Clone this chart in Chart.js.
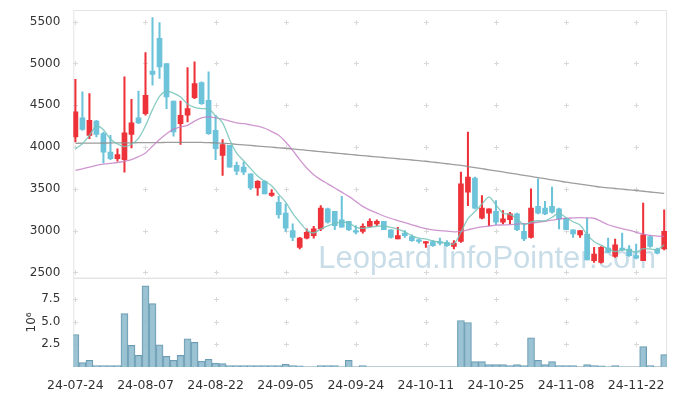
<!DOCTYPE html>
<html>
<head>
<meta charset="utf-8">
<script src="https://cdn.jsdelivr.net/npm/chart.js@4.4.1/dist/chart.umd.min.js"></script>
<style>
  html, body { margin: 0; padding: 0; background: #fff; }
  #wrap { width: 677px; height: 396px; }
</style>
</head>
<body>
<div id="wrap"><canvas id="chart" width="677" height="396"></canvas></div>
<script>
// trading days (yy-mm-dd)
const dates = [
    "24-07-24", "24-07-25", "24-07-26", "24-07-29", "24-07-30", "24-07-31",
    "24-08-01", "24-08-02", "24-08-05", "24-08-06", "24-08-07", "24-08-08", "24-08-09",
    "24-08-12", "24-08-13", "24-08-14", "24-08-16", "24-08-19", "24-08-20", "24-08-21",
    "24-08-22", "24-08-23", "24-08-26", "24-08-27", "24-08-28", "24-08-29", "24-08-30",
    "24-09-02", "24-09-03", "24-09-04", "24-09-05", "24-09-06", "24-09-09", "24-09-10",
    "24-09-11", "24-09-12", "24-09-13", "24-09-19", "24-09-20", "24-09-23", "24-09-24",
    "24-09-25", "24-09-26", "24-09-27", "24-09-30", "24-10-02", "24-10-04", "24-10-07",
    "24-10-08", "24-10-10", "24-10-11", "24-10-14", "24-10-15", "24-10-16", "24-10-17",
    "24-10-18", "24-10-21", "24-10-22", "24-10-23", "24-10-24", "24-10-25", "24-10-28",
    "24-10-29", "24-10-30", "24-10-31", "24-11-01", "24-11-04", "24-11-05", "24-11-06",
    "24-11-07", "24-11-08", "24-11-11", "24-11-12", "24-11-13", "24-11-14", "24-11-15",
    "24-11-18", "24-11-19", "24-11-20", "24-11-21", "24-11-22", "24-11-25", "24-11-26",
    "24-11-27", "24-11-28"
];

// OHLC
const opens = [
    4120, 4350, 4140, 4310, 4160, 3940, 3860, 3850, 4150, 4350,
    4400, 4910, 5300, 5000, 4550, 4280, 4380, 4590, 4770, 4560,
    4200, 3900, 4020, 3780, 3760, 3680, 3510, 3590, 3420, 3340,
    3210, 3000, 2800, 2910, 2940, 3020, 3260, 3230, 3130, 3110,
    3000, 2990, 3050, 3080, 3110, 3010, 2900, 2970, 2930, 2890,
    2850, 2870, 2870, 2860, 2810, 2870, 3460, 3630, 3150, 3210,
    3230, 3100, 3130, 3200, 2990, 2920, 3290, 3270, 3290, 3260,
    3140, 3010, 2950, 2960, 2640, 2620, 2790, 2690, 2790, 2780,
    2700, 2640, 2930, 2780, 2780
];
const highs = [
    4810, 4660, 4640, 4320, 4180, 4140, 3980, 4840, 4570, 4670,
    5130, 5550, 5490, 5000, 4550, 4550, 4950, 5020, 4780, 4900,
    4380, 4090, 4020, 3820, 3820, 3680, 3600, 3600, 3490, 3410,
    3320, 3080, 2920, 3020, 3050, 3300, 3270, 3230, 3410, 3110,
    3060, 3080, 3140, 3130, 3110, 3010, 3040, 3000, 2950, 2900,
    2870, 2880, 2910, 2880, 2880, 3700, 4180, 3640, 3420, 3260,
    3360, 3240, 3220, 3210, 3080, 3500, 3620, 3350, 3520, 3270,
    3150, 3010, 3000, 3150, 2800, 2810, 2910, 2900, 2970, 2820,
    2840, 3330, 2940, 2790, 3250
];
const lows = [
    4060, 4200, 4100, 4120, 3810, 3850, 3830, 3700, 3990, 4280,
    4380, 4740, 4820, 4460, 4130, 4030, 4300, 4580, 4510, 4150,
    3850, 3660, 3760, 3670, 3670, 3490, 3420, 3440, 3410, 3150,
    2990, 2880, 2780, 2900, 2910, 3000, 3090, 3010, 3040, 3000,
    2960, 2970, 3040, 3060, 3010, 2910, 2900, 2920, 2870, 2850,
    2800, 2810, 2830, 2810, 2780, 2860, 3300, 3260, 3140, 3060,
    3070, 3080, 3080, 3000, 2880, 2910, 3200, 3190, 3210, 3020,
    3010, 2920, 2920, 2650, 2620, 2610, 2740, 2680, 2760, 2690,
    2660, 2640, 2800, 2720, 2770
];
const closes = [
    4420, 4210, 4320, 4150, 3940, 3860, 3910, 4170, 4290, 4290,
    4620, 4870, 4960, 4600, 4180, 4380, 4460, 4760, 4520, 4160,
    3980, 4030, 3760, 3710, 3700, 3510, 3590, 3440, 3450, 3190,
    3030, 2920, 2910, 2980, 3020, 3270, 3100, 3060, 3040, 3010,
    2980, 3050, 3110, 3110, 3010, 2920, 2940, 2940, 2880, 2870,
    2870, 2820, 2850, 2820, 2850, 3560, 3640, 3270, 3270, 3260,
    3100, 3140, 3200, 3010, 2900, 3270, 3210, 3200, 3220, 3140,
    3010, 2960, 3000, 2650, 2720, 2800, 2740, 2830, 2770, 2700,
    2670, 2950, 2810, 2730, 2990
];

// moving averages (5, 20, 120 days)
const ma5 = [
    3980, 4040, 4140, 4250, 4208, 4096, 4036, 4006, 4034, 4104,
    4256, 4448, 4606, 4668, 4646, 4598, 4516, 4476, 4460, 4456,
    4376, 4290, 4090, 3928, 3836, 3742, 3654, 3590, 3538, 3436,
    3340, 3206, 3100, 3006, 2972, 3020, 3056, 3086, 3098, 3096,
    3038, 3028, 3038, 3052, 3052, 3040, 3018, 2984, 2938, 2910,
    2900, 2876, 2858, 2846, 2842, 2980, 3144, 3228, 3318, 3400,
    3308, 3208, 3194, 3142, 3070, 3104, 3118, 3118, 3160, 3208,
    3156, 3106, 3066, 2952, 2868, 2826, 2782, 2748, 2772, 2768,
    2742, 2784, 2780, 2772, 2830
];
const ma20 = [
    3720, 3740, 3760, 3780, 3795, 3805, 3815, 3830, 3850, 3885,
    3930, 4010, 4090, 4160, 4215, 4240, 4260, 4310, 4350, 4360,
    4350, 4335, 4310, 4290, 4280, 4265, 4250, 4225, 4185, 4140,
    4060, 3960, 3850, 3750, 3670, 3610, 3560, 3510, 3460, 3410,
    3350, 3290, 3245, 3210, 3175, 3145, 3120, 3095, 3070, 3045,
    3025, 3010, 3000, 2995, 2985, 2990, 3010, 3030, 3045, 3055,
    3065, 3068, 3072, 3078, 3082, 3090, 3100, 3112, 3125, 3138,
    3148, 3152, 3155, 3152, 3148, 3110, 3070, 3045, 3025, 3005,
    2980, 2960, 2942, 2935, 2930
];
const ma120 = [
    4045, 4046, 4047, 4048, 4048, 4049, 4050, 4050, 4051, 4052,
    4052, 4053, 4054, 4055, 4055, 4055, 4056, 4056, 4055, 4053,
    4050, 4046, 4040, 4033, 4026, 4019, 4012, 4005, 3998, 3991,
    3985, 3977, 3969, 3961, 3953, 3945, 3937, 3929, 3921, 3913,
    3905, 3898, 3890, 3883, 3875, 3868, 3860, 3853, 3845, 3838,
    3830, 3820, 3810, 3800, 3790, 3780, 3767, 3754, 3741, 3728,
    3715, 3702, 3688, 3675, 3661, 3648, 3634, 3621, 3607, 3594,
    3580, 3568, 3556, 3544, 3532, 3520, 3512, 3504, 3496, 3488,
    3480, 3471, 3462, 3454, 3445
];

// volume (x 10^6)
const volumes = [
    3.59, 0.49, 0.74, 0.16, 0.15, 0.15, 0.15, 5.89, 2.39, 1.29,
    8.96, 6.99, 2.46, 1.18, 0.74, 1.29, 3.12, 2.72, 0.64, 0.86,
    0.42, 0.38, 0.15, 0.15, 0.15, 0.15, 0.15, 0.15, 0.15, 0.15,
    0.30, 0.15, 0.12, 0.01, 0.01, 0.15, 0.15, 0.15, 0.01, 0.74,
    0.01, 0.15, 0.01, 0.01, 0.01, 0.01, 0.01, 0.01, 0.01, 0.01,
    0.01, 0.01, 0.01, 0.01, 0.01, 5.13, 4.91, 0.60, 0.60, 0.27,
    0.27, 0.27, 0.15, 0.27, 0.15, 3.23, 0.74, 0.27, 0.60, 0.15,
    0.15, 0.15, 0.01, 0.27, 0.15, 0.12, 0.01, 0.15, 0.01, 0.01,
    0.01, 2.24, 0.15, 0.01, 1.37
];

const dateTicks = [0, 10, 20, 30, 40, 50, 60, 70, 80];
const priceTicks = [2500, 3000, 3500, 4000, 4500, 5000, 5500];
const volTicks = [2.5, 5.0, 7.5];

const UP = "rgb(238, 50, 58)";
const DOWN = "rgb(108, 195, 218)";
const candleColors = closes.map((c, i) => (c >= opens[i] ? UP : DOWN));

const FONT = { family: "'DejaVu Sans', sans-serif", size: 12 };

// grid crosses, panel frames, watermark
const decor = {
    id: "decor",
    beforeDatasetsDraw(chart) {
        const { ctx } = chart;
        const { x, y, yVol } = chart.scales;
        ctx.save();
        ctx.strokeStyle = "#e4e4e4";
        ctx.lineWidth = 1;
        ctx.strokeRect(x.left + 0.5, y.top + 0.5, x.right - x.left - 1, y.bottom - y.top);
        ctx.strokeRect(x.left + 0.5, yVol.top + 0.5, x.right - x.left - 1, yVol.bottom - yVol.top - 1);

        ctx.strokeStyle = "#d9d9d9";
        const cross = (px, py) => {
            ctx.beginPath();
            ctx.moveTo(px - 2.5, py); ctx.lineTo(px + 2.5, py);
            ctx.moveTo(px, py - 2.5); ctx.lineTo(px, py + 2.5);
            ctx.stroke();
        };
        dateTicks.forEach((t) => {
            const px = Math.round(x.getPixelForValue(t)) + 0.5;
            priceTicks.forEach((v) => cross(px, Math.round(y.getPixelForValue(v)) + 0.5));
            volTicks.forEach((v) => cross(px, Math.round(yVol.getPixelForValue(v)) + 0.5));
        });

        ctx.font = "31px 'Liberation Sans', sans-serif";
        ctx.fillStyle = "rgba(165, 198, 218, 0.6)";
        ctx.textAlign = "left";
        ctx.textBaseline = "alphabetic";
        ctx.fillText("Leopard.InfoPointer.com", x.left + 245, y.bottom - 10);
        ctx.restore();
    },
};

const fixedTicks = (list) => (s) => { s.ticks = list.map((v) => ({ value: v })); };

// moving average line
const maLine = (label, values, color) => ({
    type: "line",
    label,
    data: values.map((v, i) => ({ x: i, y: v })),
    yAxisID: "y",
    borderColor: color,
    borderWidth: 1.3,
    pointRadius: 0,
    tension: 0.3,
    order: 0,
});

new Chart(document.getElementById("chart").getContext("2d"), {
    type: "bar",
    data: {
        datasets: [
            maLine("MA5", ma5, "rgba(115, 195, 185, 0.85)"),
            maLine("MA20", ma20, "rgba(195, 125, 195, 0.8)"),
            maLine("MA120", ma120, "rgba(140, 140, 140, 0.85)"),
            {
                label: "wick",
                data: lows.map((l, i) => ({ x: i, y: [l, highs[i]] })),
                yAxisID: "y",
                backgroundColor: candleColors,
                barThickness: 1.4,
                grouped: false,
                order: 2,
            },
            {
                label: "body",
                data: opens.map((o, i) => ({ x: i, y: [o, closes[i]] })),
                yAxisID: "y",
                backgroundColor: candleColors,
                barThickness: 5,
                grouped: false,
                order: 1,
            },
            {
                label: "volume",
                data: volumes.map((v, i) => ({ x: i, y: v })),
                yAxisID: "yVol",
                backgroundColor: "rgba(145, 188, 206, 0.9)",
                borderColor: "rgb(108, 156, 180)",
                borderWidth: 1,
                barPercentage: 1,
                categoryPercentage: 1,
                grouped: false,
                order: 1,
            },
        ],
    },
    options: {
        responsive: false,
        animation: false,
        layout: { autoPadding: false, padding: { left: 0, right: 10, top: 10, bottom: 0 } },
        plugins: {
            legend: { display: false },
            tooltip: { enabled: false },
        },
        scales: {
            x: {
                type: "linear",
                offset: false,
                min: -0.3,
                max: 84.4,
                grid: { display: false, offset: false },
                border: { display: false },
                afterBuildTicks: fixedTicks(dateTicks),
                ticks: {
                    autoSkip: false,
                    maxRotation: 0,
                    padding: 3,
                    color: "#333",
                    font: { family: FONT.family, size: 12.5 },
                    callback: (v) => dates[v],
                },
                afterFit: (s) => { s.height = 29; s.paddingLeft = 0; s.paddingRight = 0; },
            },
            yVol: {
                type: "linear",
                position: "left",
                stack: "panels",
                stackWeight: 1,
                min: 0,
                max: 9.85,
                grid: { display: false },
                border: { display: false },
                afterBuildTicks: fixedTicks(volTicks),
                title: {
                    display: true,
                    text: "10\u2076",
                    color: "#333",
                    font: FONT,
                    padding: { top: 25, bottom: 0 },
                },
                ticks: {
                    autoSkip: false,
                    padding: 5,
                    color: "#333",
                    font: FONT,
                    callback: (v) => v.toFixed(1),
                },
                afterFit: (s) => { s.width = 73.3; s.paddingTop = 0; s.paddingBottom = 0; },
            },
            y: {
                type: "linear",
                position: "left",
                stack: "panels",
                stackWeight: 3,
                min: 2436,
                max: 5640,
                grid: { display: false },
                border: { display: false },
                afterBuildTicks: fixedTicks(priceTicks),
                ticks: {
                    autoSkip: false,
                    padding: 5,
                    color: "#333",
                    font: FONT,
                    callback: (v) => String(v),
                },
                afterFit: (s) => { s.width = 73.3; s.paddingTop = 0; s.paddingBottom = 0; },
            },
        },
    },
    plugins: [decor],
});
</script>
</body>
</html>
